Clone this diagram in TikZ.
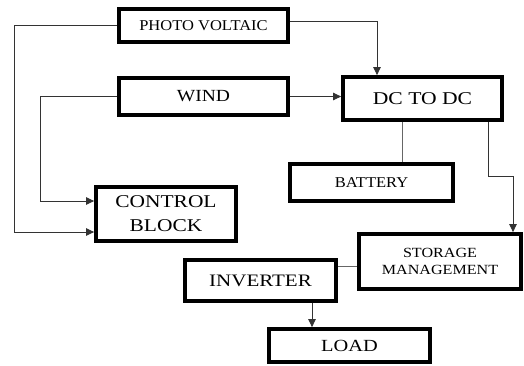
\documentclass[tikz,border=0pt]{standalone}
\usepackage{fontspec}
\usepackage{graphicx}
\setmainfont{Liberation Serif}
\usetikzlibrary{arrows.meta,calc}
\newcommand{\hs}[2][1.15]{\scalebox{#1}[1]{#2}}
\tikzset{
  blk/.style={draw=black, line width=3.8pt, fill=white, inner sep=0pt, align=center},
  conn/.style={line width=0.9pt, draw=black!80},
  lconn/.style={line width=0.9pt, draw=black!60},
  arr/.style={conn, -{Triangle[length=8pt,width=7.5pt]}},
}
\begin{document}
\begin{tikzpicture}[x=1pt,y=-1pt]
\useasboundingbox (0,0) rectangle (524,365);
% boxes (min size = outer size - line width)
\node[blk, minimum width=169pt, minimum height=33pt, font=\fontsize{15}{18}\selectfont] (PV) at (203.5,25.5) {\hs[1.1]{PHOTO VOLTAIC}};
\node[blk, minimum width=169pt, minimum height=37pt, font=\fontsize{17}{20}\selectfont] (WI) at (203.5,96.5) {\hs{WIND}};
\node[blk, minimum width=159pt, minimum height=43pt, font=\fontsize{18}{21}\selectfont] (DC) at (422.5,98.5) {\hs[1.2]{DC TO DC}};
\node[blk, minimum width=163pt, minimum height=37pt, font=\fontsize{15}{18}\selectfont] (BA) at (371.5,182.5) {\hs[1.1]{BATTERY}};
\node[blk, minimum width=140pt, minimum height=54pt, font=\fontsize{18}{24}\selectfont] (CB) at (166,214) {\hs[1.19]{CONTROL}\\\hs[1.19]{BLOCK}};
\node[blk, minimum width=162pt, minimum height=55pt, font=\fontsize{14}{17}\selectfont] (ST) at (440,261.5) {\hs{STORAGE}\\\hs{MANAGEMENT}};
\node[blk, minimum width=151pt, minimum height=41pt, font=\fontsize{17.5}{20}\selectfont] (IN) at (260.5,280.5) {\hs[1.2]{INVERTER}};
\node[blk, minimum width=161pt, minimum height=33pt, font=\fontsize{17}{20}\selectfont] (LO) at (349.5,345.5) {\hs[1.2]{LOAD}};
% helper coordinates
\coordinate (c1) at (14,232);
\coordinate (c2) at (40,201);
\coordinate (c3) at (377,21);
\coordinate (c4) at (402,150);
\coordinate (c5) at (488,176);
\coordinate (c6) at (513,176);
\coordinate (c7) at (350,266);
\coordinate (c8) at (312,315);
% connectors
\draw[arr] (PV.west) -| (c1) -- (CB.west |- c1);
\draw[arr] (WI.west) -| (c2) -- (CB.west |- c2);
\draw[arr] (PV.east |- c3) -- (c3) -- (DC.north -| c3);
\draw[arr] (WI.east) -- (WI.east -| DC.west);
\draw[lconn] (DC.south -| c4) -- (BA.north -| c4);
\draw[arr] (DC.south -| c5) -- (c5) -- (c6) -- (ST.north -| c6);
\draw[lconn] (IN.east |- c7) -- (ST.west |- c7);
\draw[arr] (IN.south -| c8) -- (LO.north -| c8);
\end{tikzpicture}
\end{document}
